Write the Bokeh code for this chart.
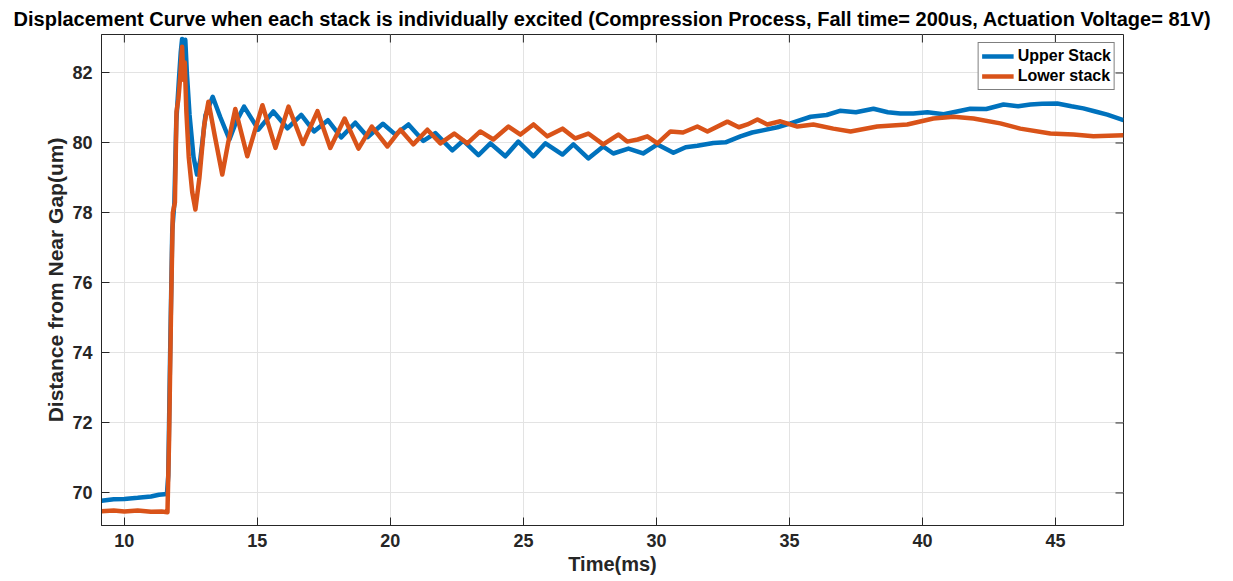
import math
from bokeh.plotting import figure
from bokeh.models import Range1d, Legend, LegendItem, FixedTicker
from bokeh.embed import file_html
from bokeh.resources import INLINE

# Time (ms) and displacement (um) for the two stacks
t_upper = [9.14, 9.6, 10.0, 10.5, 11.0, 11.3, 11.6, 11.65, 11.72, 11.8, 11.88, 11.95,
           12.05, 12.12, 12.17, 12.23, 12.29, 12.35, 12.45, 12.6, 12.73, 12.85, 13.05,
           13.32, 13.6, 13.95, 14.2, 14.5, 15.04, 15.6, 16.13, 16.65, 17.13, 17.65,
           18.15, 18.68, 19.15, 19.72, 20.19, 20.68, 21.24, 21.69, 22.33, 22.74, 23.31,
           23.76, 24.32, 24.81, 25.38, 25.83, 26.47, 26.88, 27.44, 28.0, 28.38, 28.95,
           29.5, 30.04, 30.64, 31.1, 31.54, 32.14, 32.6, 33.16, 33.6, 34.0, 34.55,
           35.04, 35.8, 36.4, 36.9, 37.5, 38.16, 38.7, 39.17, 39.66, 40.19, 40.8, 41.3,
           41.8, 42.4, 43.05, 43.6, 44.06, 44.5, 45.07, 45.6, 46.05, 46.5, 46.95, 47.56]
y_upper = [69.78, 69.82, 69.83, 69.86, 69.9, 69.95, 69.97, 70.5, 74.0, 77.5, 78.3, 80.6,
           81.8, 82.6, 82.97, 82.4, 82.95, 82.0, 80.8, 79.6, 79.1, 79.5, 80.8,
           81.32, 80.75, 80.1, 80.6, 81.04, 80.38, 80.9, 80.42, 80.8, 80.33, 80.65,
           80.16, 80.58, 80.17, 80.55, 80.24, 80.53, 80.06, 80.28, 79.79, 80.07, 79.65,
           79.99, 79.62, 80.04, 79.62, 79.99, 79.67, 79.96, 79.56, 79.9, 79.7, 79.84,
           79.7, 79.96, 79.72, 79.88, 79.92, 80.0, 80.02, 80.19, 80.3, 80.36, 80.45,
           80.56, 80.75, 80.8, 80.92, 80.88, 80.98, 80.88, 80.84, 80.84, 80.88, 80.82, 80.9,
           80.98, 80.97, 81.1, 81.05, 81.1, 81.12, 81.13, 81.05, 80.99, 80.9, 80.81, 80.65]

t_lower = [9.14, 9.6, 10.0, 10.5, 11.0, 11.4, 11.62, 11.68, 11.76, 11.82, 11.9, 11.96,
           12.03, 12.1, 12.17, 12.22, 12.27, 12.33, 12.42, 12.55, 12.67, 12.82, 13.0,
           13.16, 13.4, 13.68, 13.9, 14.17, 14.62, 15.19, 15.68, 16.17, 16.71, 17.26,
           17.74, 18.28, 18.8, 19.3, 19.89, 20.38, 20.86, 21.39, 21.88, 22.4, 22.89,
           23.38, 23.87, 24.44, 24.89, 25.38, 25.9, 26.47, 26.95, 27.44, 28.0, 28.57,
           28.9, 29.3, 29.66, 30.04, 30.53, 31.0, 31.54, 31.92, 32.67, 33.1, 33.42, 33.8,
           34.17, 34.66, 35.3, 35.9, 36.65, 37.3, 38.3, 39.43, 40.41, 41.17, 41.92,
           42.93, 43.68, 44.81, 45.68, 46.43, 47.56]
y_lower = [69.48, 69.5, 69.47, 69.5, 69.46, 69.47, 69.45, 71.5, 75.5, 78.0, 78.3, 80.9,
           81.25, 81.9, 82.75, 81.8, 82.3, 80.9, 79.6, 78.6, 78.1, 79.0, 80.5,
           81.18, 80.2, 79.1, 80.0, 80.97, 79.62, 81.08, 79.86, 81.04, 79.97, 80.91,
           79.86, 80.7, 79.84, 80.47, 79.9, 80.38, 79.96, 80.38, 79.99, 80.27, 79.99,
           80.33, 80.1, 80.47, 80.24, 80.53, 80.19, 80.41, 80.13, 80.27, 79.96, 80.24,
           80.04, 80.1, 80.19, 79.99, 80.33, 80.3, 80.47, 80.33, 80.61, 80.45, 80.53, 80.67,
           80.53, 80.62, 80.47, 80.53, 80.41, 80.33, 80.47, 80.53, 80.7, 80.75, 80.7,
           80.56, 80.41, 80.27, 80.24, 80.19, 80.22]

x_ticks = [10, 15, 20, 25, 30, 35, 40, 45]
y_ticks = [70, 72, 74, 76, 78, 80, 82]

X_MIN, X_MAX = 9.14, 47.56
Y_MIN, Y_MAX = 69.07, 83.1

FONT = "Liberation Sans"
AXIS_COLOR = "#262626"
BLUE = "#0072BD"
ORANGE = "#D95319"
TICK_LEN = 8

p = figure(
    width=1233, height=581,
    frame_width=1022, frame_height=491,
    min_border_left=101, min_border_right=110, min_border_top=33, min_border_bottom=57,
    x_range=Range1d(X_MIN, X_MAX), y_range=Range1d(Y_MIN, Y_MAX),
    output_backend="svg", toolbar_location=None,
    title="Displacement Curve when each stack is individually excited (Compression Process, Fall time= 200us, Actuation Voltage= 81V)",
)
p.title.text_font = FONT
p.title.text_font_size = "20px"
p.title.text_font_style = "bold"
p.title.text_color = "#000000"
p.title.align = "center"
p.title.offset = 0

p.outline_line_color = AXIS_COLOR
p.outline_line_width = 1
p.background_fill_color = "white"
p.border_fill_color = "white"

p.xgrid.ticker = FixedTicker(ticks=x_ticks)
p.ygrid.ticker = FixedTicker(ticks=y_ticks)
p.grid.grid_line_color = "#e3e3e3"
p.grid.grid_line_width = 1

r_up = p.line(t_upper, y_upper, line_color=BLUE, line_width=4.5, line_join="round")
r_lo = p.line(t_lower, y_lower, line_color=ORANGE, line_width=4.5, line_join="round")

# box-style inward ticks along the top and right edges of the frame
p.ray(x=x_ticks, y=[Y_MAX] * len(x_ticks), length=TICK_LEN, length_units="screen",
      angle=-math.pi / 2, line_color=AXIS_COLOR, line_width=1)
p.ray(x=[X_MAX] * len(y_ticks), y=y_ticks, length=TICK_LEN, length_units="screen",
      angle=math.pi, line_color=AXIS_COLOR, line_width=1)


def style_axis(ax, ticks, label_size):
    ax.ticker = FixedTicker(ticks=ticks)
    ax.major_tick_in = TICK_LEN
    ax.major_tick_out = 0
    ax.minor_tick_in = 0
    ax.minor_tick_out = 0
    ax.axis_line_color = AXIS_COLOR
    ax.major_tick_line_color = AXIS_COLOR
    ax.major_label_text_font = FONT
    ax.major_label_text_font_style = "bold"
    ax.major_label_text_font_size = "18px"
    ax.major_label_text_color = AXIS_COLOR
    ax.axis_label_text_font = FONT
    ax.axis_label_text_font_style = "bold"
    ax.axis_label_text_font_size = label_size
    ax.axis_label_text_color = AXIS_COLOR


style_axis(p.xaxis[0], x_ticks, "20px")
style_axis(p.yaxis[0], y_ticks, "21px")
p.xaxis[0].axis_label = "Time(ms)"
p.yaxis[0].axis_label = "Distance from Near Gap(um)"
p.xaxis[0].major_label_standoff = 8
p.yaxis[0].major_label_standoff = 9
p.xaxis[0].axis_label_standoff = 3
p.yaxis[0].axis_label_standoff = 2

legend = Legend(items=[LegendItem(label="Upper Stack", renderers=[r_up]),
                       LegendItem(label="Lower stack", renderers=[r_lo])],
                location="top_right")
legend.label_text_font = FONT
legend.label_text_font_style = "bold"
legend.label_text_font_size = "16px"
legend.label_text_color = "#000000"
legend.border_line_color = "#000000"
legend.border_line_width = 1
legend.background_fill_alpha = 1
legend.margin = 8
legend.padding = 3
legend.spacing = 0
legend.glyph_width = 32
legend.glyph_height = 20
legend.label_standoff = 4
legend.label_height = 20
p.add_layout(legend)

open("out.html", "w").write(file_html(p, INLINE))
